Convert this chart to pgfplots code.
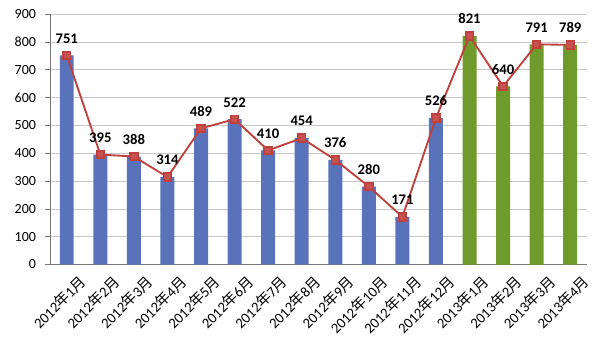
\documentclass[border=0pt]{standalone}
\usepackage{pgfplots}
\pgfplotsset{compat=1.18}
\usepackage{fontspec}
\setmainfont{Carlito}
\newfontfamily\cjk{Noto Sans CJK SC}
\definecolor{barblue}{HTML}{5873BA}
\definecolor{bargreen}{HTML}{6E9B2C}
\definecolor{linered}{HTML}{C0403D}
\definecolor{gridgray}{HTML}{C8C8C8}
\begin{document}
\begin{tikzpicture}
\begin{axis}[
  name=ax,
  scale only axis,
  width=403pt, height=188pt,
  xmin=-0.5, xmax=15.5,
  ymin=0, ymax=900,
  ytick={0,100,...,900},
  xtick={0,...,15},
  xticklabels={2012{\cjk 年}1{\cjk 月},2012{\cjk 年}2{\cjk 月},2012{\cjk 年}3{\cjk 月},2012{\cjk 年}4{\cjk 月},2012{\cjk 年}5{\cjk 月},2012{\cjk 年}6{\cjk 月},2012{\cjk 年}7{\cjk 月},2012{\cjk 年}8{\cjk 月},2012{\cjk 年}9{\cjk 月},2012{\cjk 年}10{\cjk 月},2012{\cjk 年}11{\cjk 月},2012{\cjk 年}12{\cjk 月},2013{\cjk 年}1{\cjk 月},2013{\cjk 年}2{\cjk 月},2013{\cjk 年}3{\cjk 月},2013{\cjk 年}4{\cjk 月}},
  x tick label style={rotate=45, anchor=north east, font=\fontsize{11}{12}\selectfont, inner sep=1pt, xshift=5pt, yshift=-7pt},
  y tick label style={font=\fontsize{10.5}{12}\selectfont, xshift=-3pt},
  /pgf/number format/assume math mode=true,
  extra x ticks={-0.5,0.5,...,15.5},
  extra x tick labels={},
  extra x tick style={grid=none, major tick length=4pt, tick style={gridgray!60!black, thin}, tick align=outside},
  major x tick style={draw=none},
  ytick style={gridgray!60!black, thin},
  tick align=outside,
  major tick length=4pt,
  ymajorgrids,
  grid style={gridgray, thin},
  axis line style={gridgray!60!black},
  axis x line*=bottom,
  axis y line*=left,
  clip=false,
]
\addplot[ybar, bar width=10.5pt, bar shift=0pt, fill=barblue, draw=none] coordinates {
(0,751) (1,395) (2,388) (3,314) (4,489) (5,522) (6,410) (7,454) (8,376) (9,280) (10,171) (11,526)};
\addplot[ybar, bar width=10.5pt, bar shift=0pt, fill=bargreen, draw=none] coordinates {
(12,821) (13,640) (14,791) (15,789)};
\addplot[linered, line width=1.4pt, mark=square*, mark size=2.8pt, mark options={fill=linered!90!white, draw=linered},
  nodes near coords, every node near coord/.style={font=\bfseries\fontsize{11}{12}\selectfont, black, anchor=south, yshift=5pt}] coordinates {
(0,751) (1,395) (2,388) (3,314) (4,489) (5,522) (6,410) (7,454) (8,376) (9,280) (10,171) (11,526) (12,821) (13,640) (14,791) (15,789)};
\end{axis}
\pgfresetboundingbox
\path ([shift={(-37.5pt,-66.75pt)}]ax.south west) rectangle ([shift={(9.75pt,10.5pt)}]ax.north east);
\end{tikzpicture}
\end{document}
